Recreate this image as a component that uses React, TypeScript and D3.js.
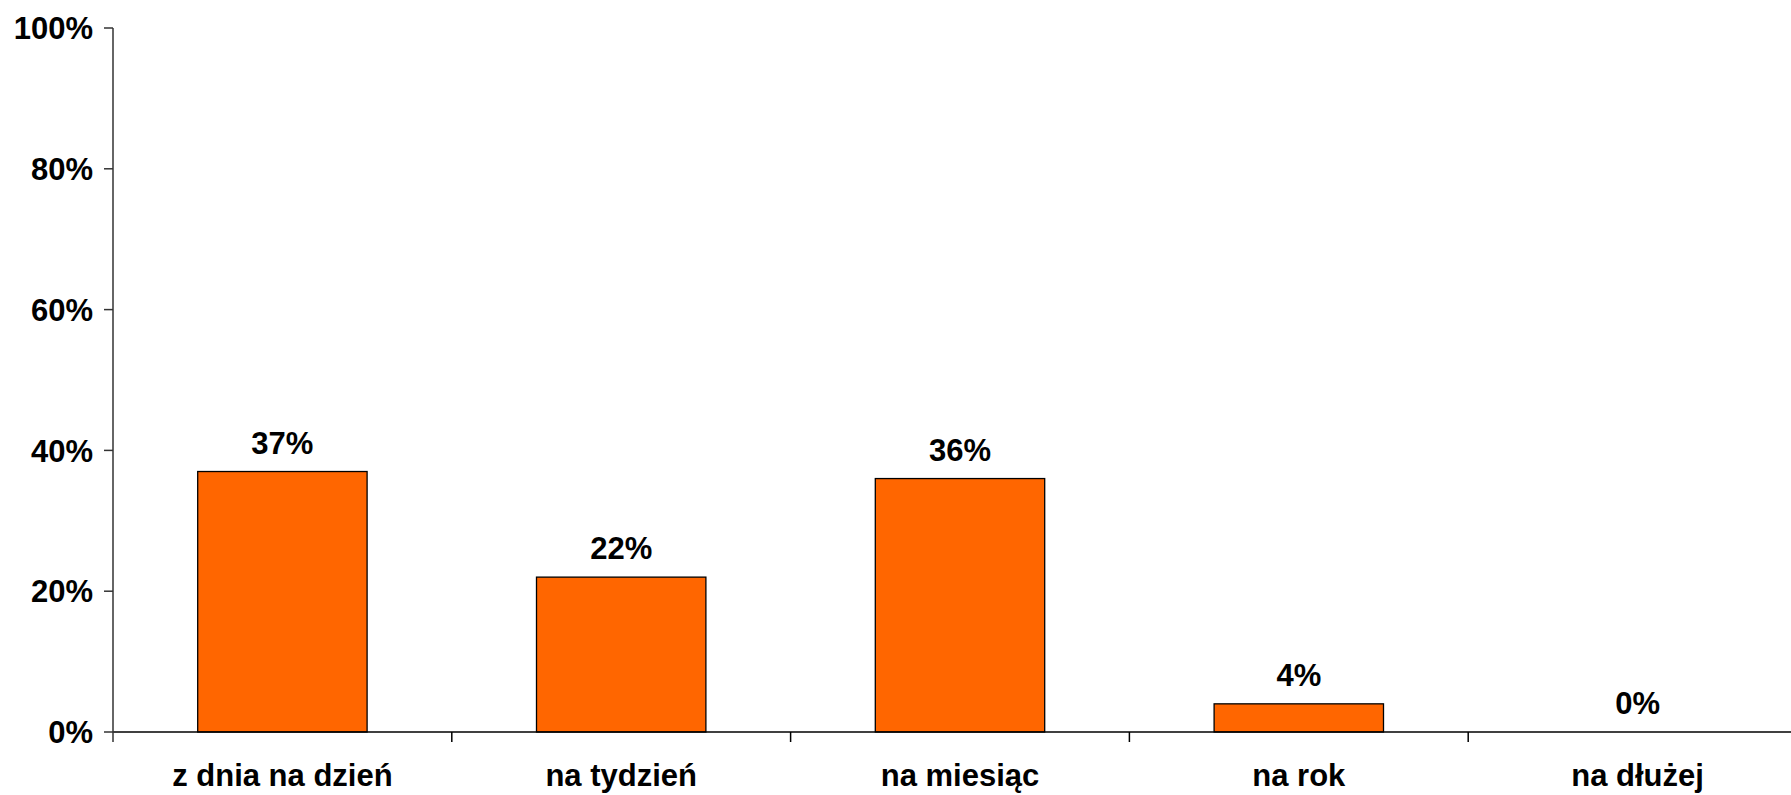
import React from "react";
import * as d3 from "d3";

const categories = ["z dnia na dzień", "na tydzień", "na miesiąc", "na rok", "na dłużej"];
const values = [37, 22, 36, 4, 0];
const yTicks = [0, 20, 40, 60, 80, 100];

const W = 1791;
const H = 795;
const left = 113;
const plotRight = 1807;
const top = 28;
const bottom = 732;
const FONT = "'Liberation Sans', Arial, sans-serif";
const FS = 31;

export default function App() {
  const x = d3.scaleBand<string>().domain(categories).range([left, plotRight]).paddingInner(0.5).paddingOuter(0.25);
  const step = x.step();
  const y = d3.scaleLinear().domain([0, 100]).range([bottom, top]);
  const boundaries = categories.slice(1).map((c) => (x(c) as number) - step * 0.25);

  return (
    <svg width={W} height={H} style={{ position: "absolute", left: 0, top: 0, background: "#fff" }}>
      {categories.map((c, i) =>
        values[i] > 0 ? (
          <rect
            key={c}
            x={x(c)}
            y={y(values[i])}
            width={x.bandwidth()}
            height={y(0) - y(values[i])}
            fill="#FF6600"
            stroke="#000"
            strokeWidth={1.3}
          />
        ) : null
      )}
      <line x1={left} x2={W} y1={bottom} y2={bottom} stroke="#000" strokeWidth={1.5} />
      {boundaries.map((bx, i) => (
        <line key={i} x1={bx} x2={bx} y1={bottom} y2={bottom + 10} stroke="#000" strokeWidth={1.5} />
      ))}
      <line x1={left} x2={left} y1={top} y2={bottom + 10} stroke="#333" strokeWidth={1.5} />
      {yTicks.map((t) => (
        <g key={t}>
          <line x1={left - 9} x2={left} y1={y(t)} y2={y(t)} stroke="#333" strokeWidth={1.5} />
          <text
            x={left - 20}
            y={y(t)}
            dy="0.36em"
            textAnchor="end"
            fontFamily={FONT}
            fontWeight="bold"
            fontSize={FS}
            fill="#000"
          >
            {t}%
          </text>
        </g>
      ))}
      {categories.map((c, i) => (
        <text
          key={c}
          x={(x(c) as number) + x.bandwidth() / 2}
          y={y(values[i]) - 18}
          textAnchor="middle"
          fontFamily={FONT}
          fontWeight="bold"
          fontSize={FS}
          fill="#000"
        >
          {values[i]}%
        </text>
      ))}
      {categories.map((c) => (
        <text
          key={c}
          x={(x(c) as number) + x.bandwidth() / 2}
          y={786}
          textAnchor="middle"
          fontFamily={FONT}
          fontWeight="bold"
          fontSize={FS}
          fill="#000"
        >
          {c}
        </text>
      ))}
    </svg>
  );
}
